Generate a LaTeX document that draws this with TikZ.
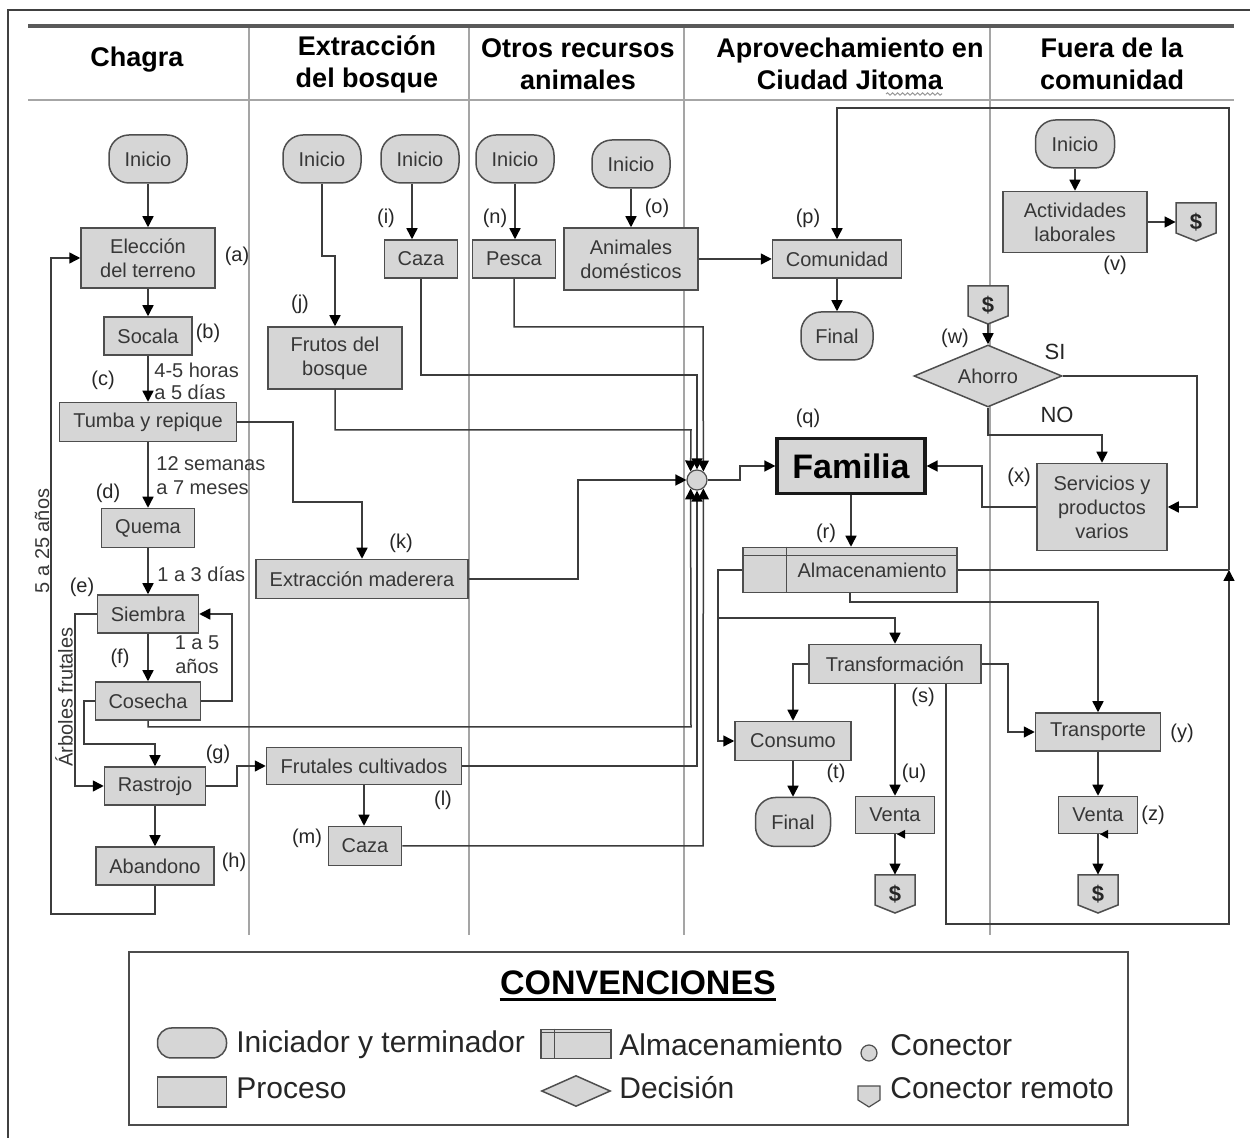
\documentclass[tikz,border=0pt]{standalone}
\usepackage{fontspec}
\setmainfont{Liberation Sans}
\usetikzlibrary{arrows.meta,shapes.geometric,decorations.pathmorphing,calc}
\definecolor{boxfill}{RGB}{214,214,214}
\definecolor{boxcol}{RGB}{78,78,78}
\definecolor{linecol}{RGB}{60,60,60}
\definecolor{txtcol}{RGB}{55,55,55}
\definecolor{sepcol}{RGB}{165,165,165}
\newcommand\remcon[3]{%
  \filldraw[draw=boxcol, fill=boxfill, line width=0.75pt] ({#2-20},{#3-19}) -- ({#2+20},{#3-19}) -- ({#2+20},{#3+11}) -- (#2,{#3+19}) -- ({#2-20},{#3+11}) -- cycle;
  \node[inner sep=0pt, minimum width=20pt, minimum height=19pt, font=\bfseries\fontsize{11}{13}\selectfont, text=black!85] (#1) at (#2,#3) {\$};}
\newcommand\smalltip[1]{%
  \fill[black] ([xshift=1pt]#1) -- ([xshift=5pt,yshift=2.2pt]#1) -- ([xshift=5pt,yshift=-2.2pt]#1) -- cycle;}
\begin{document}
\begin{tikzpicture}[x=0.5pt,y=-0.5pt,
  sz/.style 2 args={minimum width=#1*0.5pt, minimum height=#2*0.5pt},
  base/.style={draw=boxcol, line width=0.75pt, fill=boxfill, text=txtcol, font=\fontsize{10}{12}\selectfont, align=center, inner sep=0pt},
  proc/.style={base, rectangle},
  term/.style={base, rectangle, rounded corners=10pt, sz={78}{48}},
  fam/.style={base, line width=1.6pt, draw=black!90, text=black, font=\bfseries\fontsize{17}{20}\selectfont, sz={148}{55}},
  diam/.style={base, diamond, aspect=2.4, sz={148}{62}},
  conn/.style={draw=boxcol, fill=boxfill, circle, inner sep=0pt, minimum size=10pt, line width=0.6pt},
  lab/.style={font=\fontsize{10}{12}\selectfont, text=black!85, inner sep=0pt},
  elab/.style={font=\fontsize{10}{11}\selectfont, text=txtcol, inner sep=0pt, align=left, anchor=west},
  hdr/.style={font=\bfseries\fontsize{13.5}{16}\selectfont, align=center, inner sep=0pt},
  leg/.style={font=\fontsize{15}{18}\selectfont, text=black!85, inner sep=0pt, anchor=west},
  arr/.style={draw=linecol, line width=0.75pt, -{Triangle[length=5.5pt,width=5.5pt,color=black]}},
  plain/.style={draw=linecol, line width=0.75pt},
  sep/.style={draw=sepcol, line width=0.6pt}]
\useasboundingbox (0,0) rectangle (1250,1138);
% frame and lanes
\draw[line width=1pt, black!75] (8,1138) -- (8,10) -- (1250,10);
\foreach \x in {249,469,684,990} \draw[sep] (\x,26) -- (\x,935);
\draw[line width=1.6pt, draw=black!65] (28,26) -- (1234,26);
\draw[line width=0.8pt, draw=black!35] (28,100) -- (1234,100);
\node[hdr] (h1) at (137,60) {Chagra};
\node[hdr] (h2) at (367,64) {Extracción\\del bosque};
\node[hdr] (h3) at (578,64) {Otros recursos\\animales};
\node[hdr] (h4) at (850,64) {Aprovechamiento en\\Ciudad Jitoma};
\node[hdr] (h5) at (1112,64) {Fuera de la\\comunidad};
\draw[black!40, line width=0.5pt, decorate, decoration={snake, amplitude=0.6pt, segment length=2.5pt}] (886,94) -- (942,94);

% Chagra
\node[term] (ini1) at (148,159) {Inicio};
\node[proc, sz={134}{60}] (a) at (148,258) {Elección\\del terreno};
\node[proc, sz={88}{38}] (b) at (148,336) {Socala};
\node[proc, sz={177}{39}] (c) at (148,422) {Tumba y repique};
\node[proc, sz={93}{39}] (d) at (148,528) {Quema};
\node[proc, sz={101}{38}] (e) at (148,614) {Siembra};
\node[proc, sz={105}{38}] (f) at (148,701) {Cosecha};
\node[proc, sz={101}{38}] (rast) at (155,786) {Rastrojo};
\node[proc, sz={118}{38}] (aband) at (155,866) {Abandono};
% Extraccion
\node[term] (inij) at (322,159) {Inicio};
\node[term] (inii) at (420,159) {Inicio};
\node[proc, sz={134}{62}] (j) at (335,358) {Frutos del\\bosque};
\node[proc, sz={73}{38}] (cazai) at (421,259) {Caza};
\node[proc, sz={212}{39}] (k) at (362,579) {Extracción maderera};
\node[proc, sz={195}{37}] (l) at (364,766) {Frutales cultivados};
\node[proc, sz={73}{39}] (cazam) at (365,846) {Caza};
% Otros
\node[term] (inin) at (515,159) {Inicio};
\node[proc, sz={83}{38}] (pesca) at (514,259) {Pesca};
\node[term] (inio) at (631,164) {Inicio};
\node[proc, sz={134}{62}] (anim) at (631,259) {Animales\\domésticos};
\node[conn] (con) at (697,480) {};
% Aprovechamiento
\node[proc, sz={129}{38}] (com) at (837,259) {Comunidad};
\node[term, sz={72}{48}] (fin1) at (837,336) {Final};
\node[fam] (fam) at (851,466) {Familia};
\node[proc, sz={214}{45}] (alm) at (850,570) {\hspace*{22pt}Almacenamiento};
\draw[draw=boxcol, line width=0.75pt] ([yshift=-4.5pt]alm.north west) -- ([yshift=-4.5pt]alm.north east);
\draw[draw=boxcol, line width=0.75pt] ([xshift=22pt]alm.north west) -- ([xshift=22pt]alm.south west);
\node[proc, sz={172}{39}] (transf) at (895,664) {Transformación};
\node[proc, sz={116}{39}] (cons) at (793,741) {Consumo};
\node[term, sz={75}{49}] (fin2) at (793,822) {Final};
\node[proc, sz={79}{37}] (ventau) at (895,815) {Venta};
\remcon{dol1}{895}{894}
% Fuera
\node[term, sz={79}{48}] (inif) at (1075,144) {Inicio};
\node[proc, sz={144}{61}] (act) at (1075,222) {Actividades\\laborales};
\remcon{dol3}{1196}{222}
\remcon{dol4}{988}{305}
\node[diam] (ahorro) at (988,376) {Ahorro};
\node[proc, sz={130}{87}] (serv) at (1102,507) {Servicios y\\productos\\varios};
\node[proc, sz={125}{38}] (transp) at (1098,732) {Transporte};
\node[proc, sz={79}{37}] (ventaz) at (1098,815) {Venta};
\remcon{dol2}{1098}{894}

% labels
\node[lab] (la) at (237,256) {(a)};
\node[lab] (lb) at (208,333) {(b)};
\node[lab] (lc) at (103,380) {(c)};
\node[lab] (ld) at (108,493) {(d)};
\node[lab] (le) at (82,587) {(e)};
\node[lab] (lf) at (120,658) {(f)};
\node[lab] (lg) at (218,754) {(g)};
\node[lab] (lh) at (234,862) {(h)};
\node[lab] (li) at (386,218) {(i)};
\node[lab] (lj) at (300,304) {(j)};
\node[lab] (lk) at (401,543) {(k)};
\node[lab] (ll) at (443,800) {(l)};
\node[lab] (lm) at (307,838) {(m)};
\node[lab] (ln) at (495,218) {(n)};
\node[lab] (lo) at (657,208) {(o)};
\node[lab] (lp) at (808,218) {(p)};
\node[lab] (lq) at (808,418) {(q)};
\node[lab] (lr) at (826,533) {(r)};
\node[lab] (ls) at (923,697) {(s)};
\node[lab] (lt) at (836,773) {(t)};
\node[lab] (lu) at (914,773) {(u)};
\node[lab] (lv) at (1115,265) {(v)};
\node[lab] (lw) at (955,338) {(w)};
\node[lab] (lx) at (1019,477) {(x)};
\node[lab] (ly) at (1182,733) {(y)};
\node[lab] (lz) at (1153,815) {(z)};
\node[lab, font=\fontsize{11}{13}\selectfont] (lsi) at (1055,352) {SI};
\node[lab, font=\fontsize{11}{13}\selectfont] (lno) at (1057,415) {NO};
\node[elab] (e1) at (154,381) {4-5 horas\\a 5 días};
\node[elab, font=\fontsize{10}{12}\selectfont] (e2) at (156,476) {12 semanas\\a 7 meses};
\node[elab] (e3) at (157,574) {1 a 3 días};
\node[elab, anchor=center, align=center, font=\fontsize{10}{12}\selectfont] (e4) at (197,655) {1 a 5\\años};
\node[elab, anchor=center, rotate=90] (e5) at (64,697) {Árboles frutales};
\node[elab, anchor=center, rotate=90] (e6) at (42,541) {5 a 25 años};

% connectors Chagra
\draw[arr] (ini1) -- (a);
\draw[arr] (a) -- (b);
\draw[arr] (b) -- (c);
\draw[arr] (c) -- (d);
\draw[arr] (d) -- (e);
\draw[arr] (e) -- (f);
\draw[arr] (f.east) -- (232,701) |- (e.east);
\draw[arr] (e.west) -- (75,614) |- (rast.west);
\draw[arr] (f.west) -- (84,701) -- (84,744) -| (rast.north);
\draw[arr] (rast) -- (aband);
\draw[arr] (aband.south) -- (155,914) -- (51,914) |- (a.west);
\draw[arr] (c.east) -- (293,422) -- (293,502) -| (k.north);
\draw[arr] (rast.east) -- (237,786) |- (l.west);
% Extraccion
\draw[arr] (inij.south) -- (322,256) -| (j.north);
\draw[arr] ([xshift=-4pt]inii.south) -- ([xshift=-4pt]inii.south |- cazai.north);
\draw[arr] (l.south) -- (l.south |- cazam.north);
% Otros
\draw[arr] (inin.south) -- (inin.south |- pesca.north);
\draw[arr] (inio) -- (anim);
\draw[arr] (anim) -- (com);
% into connector
\draw[arr] (pesca.south) |- (703,327) -- (con.53);
\draw[arr] (cazai.south) |- (697,375) -- (con.north);
\draw[arr] (j.south) |- (691,430) -- (con.127);
\draw[arr] (k.east) -- (578,579) |- (con.west);
\draw[arr] (f.south) |- (691,727) -- (con.-127);
\draw[arr] (l.east) -- (697,766) -- (con.south);
\draw[arr] (cazam.east) -- (703,846) -- (con.-53);
\draw[arr] (con.east) -- (740,480) |- (fam.west);
% Aprovechamiento
\draw[arr] (com) -- (fin1);
\draw[arr] (fam.south) -- (fam.south |- alm.north);
\coordinate (jn) at (1229,570);
\coordinate (br) at (718,618);
\draw[arr] ([xshift=25.5pt]transf.south) -- (946,924) -- (1229,924) -- (jn);
\draw[arr] (jn) -- (1229,108) -- (837,108) -- (com.north);
\draw[plain] (alm.east) -- (jn);
\draw[arr] (alm.west) -- (718,570) |- (cons.west);
\draw[arr] (br) -| (transf.north);
\draw[arr] (alm.south) -- (850,602) -| (transp.north);
\draw[arr] (transf.west) -| (cons.north);
\draw[arr] (cons) -- (fin2);
\draw[arr] (transf.south) -- (transf.south |- ventau.north);
\draw[arr] (ventau.south) -- (dol1.north);
\draw[arr] (transf.east) -- (1008,664) |- (transp.west);
\draw[arr] (transp) -- (ventaz);
\draw[arr] (ventaz.south) -- (dol2.north);
\smalltip{ventau.south}
\smalltip{ventaz.south}
% Fuera
\draw[arr] (inif) -- (act);
\draw[arr] (act.east) -- (dol3.west);
\draw[arr] (dol4.south) -- (ahorro.north);
\draw[arr] (ahorro.east) -- (1197,376) |- (serv.east);
\draw[arr] (ahorro.south) -- (988,435) -| (serv.north);
\draw[arr] (serv.west) -- (982,507) |- (fam.east);

% legend
\draw[line width=1pt, black!70] (129,952) rectangle (1128,1125);
\node[font=\bfseries\fontsize{17}{20}\selectfont, inner sep=0pt] (conv) at (638,983) {CONVENCIONES};
\draw[line width=1.4pt] ([yshift=-2.5pt]conv.base west) -- ([yshift=-2.5pt]conv.base east);
\node[term, sz={69}{30}, rounded corners=7pt] (lg1) at (192,1043) {};
\node[leg] (lt1) at (236,1045) {Iniciador y terminador};
\node[proc, sz={70}{29}] (lg2) at (576,1044) {};
\draw[draw=boxcol, line width=0.75pt] ([yshift=-2pt]lg2.north west) -- ([yshift=-2pt]lg2.north east);
\draw[draw=boxcol, line width=0.75pt] ([xshift=7pt]lg2.north west) -- ([xshift=7pt]lg2.south west);
\node[leg] (lt2) at (619,1045) {Almacenamiento};
\node[conn, minimum size=8pt] (lg3) at (869,1053) {};
\node[leg] (lt3) at (890,1045) {Conector};
\node[proc, sz={69}{30}] (lg4) at (192,1092) {};
\node[leg] (lt4) at (236,1088) {Proceso};
\node[diam, sz={69}{31}] (lg5) at (576,1091) {};
\node[leg] (lt5) at (619,1088) {Decisión};
\filldraw[draw=boxcol, fill=boxfill, line width=0.6pt] (858,1086) -- (880,1086) -- (880,1100) -- (869,1107) -- (858,1100) -- cycle;
\node[leg] (lt6) at (890,1088) {Conector remoto};
\end{tikzpicture}
\end{document}
